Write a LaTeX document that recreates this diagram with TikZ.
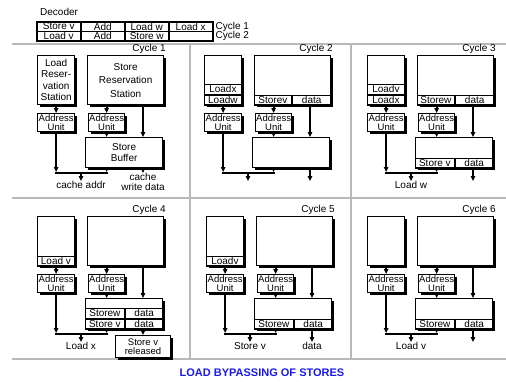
\documentclass[tikz,border=0pt]{standalone}
\usepackage{fontspec}
\setmainfont{Liberation Sans}
\usepackage{tikz}
\usetikzlibrary{arrows.meta,shadows,positioning}
\definecolor{titleblue}{RGB}{25,25,235}

\begin{document}
\begin{tikzpicture}[x=1pt, y=-1pt,
  every node/.style={font=\fontsize{10}{11}\selectfont, inner sep=0pt},
  box/.style={draw, line width=1.3pt, fill=white, anchor=north west,
    drop shadow={shadow xshift=2pt, shadow yshift=-2pt, opacity=1, fill=black}},
  au/.style={box, align=center, minimum height=18pt, font=\fontsize{9.5}{9.5}\selectfont},
  cell/.style={draw, line width=0.8pt, anchor=north west, minimum height=10pt},
  dec/.style={draw, line width=1.5pt, anchor=north west, minimum width=44pt, minimum height=9.5pt},
  conn/.style={line width=1.8pt, -{Triangle[length=5pt,width=4.5pt]}},
  wire/.style={line width=1.8pt, line cap=rect},
  sep/.style={line width=2.5pt, gray!55}]
\useasboundingbox (0,0) rectangle (506,381);

% panel borders
\foreach \y in {44,198,359}
  \draw[sep] (12,\y) -- (506,\y);
\foreach \x in {190,351}
  \draw[sep] (\x,44) -- (\x,359);

% decoder
\node[anchor=west] (dec) at (40,12) {Decoder};
\foreach \t [count=\i] in {Store v,Add,Load w,Load x}
  \node[dec] (da\i) at ({36+44*(\i-1)},21) {\t};
\foreach \t [count=\i] in {Load v,Add,Store w,{}}
  \node[dec] (db\i) at ({36+44*(\i-1)},30.5) {\t};
\node[right=2pt of da4] (c1) {Cycle 1};
\node[right=2pt of db4] (c2) {Cycle 2};

% the six cycles
\foreach \p/\cx/\cy/\de in {1/37/0/173, 2/204/0/181, 3/367/0/181,
                            4/37/161/174, 5/206/161/181, 6/367/161/181} {
  \node[box, minimum width=37pt, minimum height=49pt] (l\p) at (\cx,{55+\cy}) {};
  \node[box, minimum width=76pt, minimum height=49pt] (s\p) at ({\cx+50},{55+\cy}) {};
  \node[au, minimum width=37pt] (al\p) at (\cx,{113+\cy}) {Address\\Unit};
  \node[au, minimum width=36pt] (as\p) at ({\cx+51},{113+\cy}) {Address\\Unit};
  \node[box, minimum width=77pt, minimum height=30pt] (b\p) at ({\cx+48},{137+\cy}) {};
  \node[anchor=east] (cy\p) at ({\cx+129},{49+\cy}) {Cycle \p};
  \coordinate (dx\p) at ({\cx+106},0);
  \coordinate (j\p) at ({\cx+44},{173+\cy});
  \coordinate (o\p) at ({\cx+44},{181+\cy});
  \coordinate (e\p) at ({\cx+106},{\de+\cy});
  \draw[conn] (l\p.south) -- (al\p.north);
  \draw[conn] (as\p.north |- s\p.south) -- (as\p.north);
  \draw[conn] (as\p.south) -- (as\p.south |- b\p.north);
  \draw[conn] (s\p.south -| dx\p) -- (b\p.north -| dx\p);
  \draw[conn] (al\p.south) -- ([yshift=1pt]al\p.south |- j\p);
  \draw[conn] (b\p.south -| as\p) -- ([yshift=1pt]as\p.south |- j\p);
  \draw[wire] (al\p.south |- j\p) -- (as\p.south |- j\p);
  \draw[conn] (j\p) -- (o\p);
  \draw[conn] (b\p.south -| dx\p) -- (e\p);
}

% cycle 1
\node[align=center, font=\fontsize{10}{11.5}\selectfont] (lt1) at (l1) {Load\\Reser-\\vation\\Station};
\node[align=center, font=\fontsize{10}{13.5}\selectfont] (st1) at (s1) {Store\\Reservation\\Station};
\node[align=center, font=\fontsize{10}{10.5}\selectfont] (bt1) at (b1) {Store\\Buffer};
\node[below=0pt of o1] (ca1) {cache addr};
\node[below=0pt of e1, align=center, font=\fontsize{10}{10}\selectfont] (cw1) {cache\\write data};

% cycle 2
\node[cell, anchor=south west, minimum width=37pt] (lr2b) at (l2.south west) {Loadw};
\node[cell, above=0pt of lr2b, minimum width=37pt] (lr2a) {Loadx};
\node[cell, anchor=south west, minimum width=37pt] (sr2) at (s2.south west) {Storev};
\node[cell, right=0pt of sr2, minimum width=39pt] (sd2) {data};

% cycle 3
\node[cell, anchor=south west, minimum width=37pt] (lr3b) at (l3.south west) {Loadx};
\node[cell, above=0pt of lr3b, minimum width=37pt] (lr3a) {Loadv};
\node[cell, anchor=south west, minimum width=37pt] (sr3) at (s3.south west) {Storew};
\node[cell, right=0pt of sr3, minimum width=39pt] (sd3) {data};
\node[cell, anchor=south west, minimum width=39pt] (br3) at (b3.south west) {Store v};
\node[cell, right=0pt of br3, minimum width=38pt] (bd3) {data};
\node[below=0pt of o3] (lw3) {Load w};

% cycle 4
\node[cell, anchor=south west, minimum width=37pt] (lr4) at (l4.south west) {Load v};
\node[cell, anchor=south west, minimum width=39pt] (br4b) at (b4.south west) {Store v};
\node[cell, right=0pt of br4b, minimum width=38pt] (bd4b) {data};
\node[cell, above=0pt of br4b, minimum width=39pt] (br4a) {Storew};
\node[cell, right=0pt of br4a, minimum width=38pt] (bd4a) {data};
\node[below=0pt of o4] (lx4) {Load x};
\node[box, below=0pt of e4, minimum width=55pt, minimum height=22pt, align=center,
  font=\fontsize{9.5}{9.5}\selectfont] (rel4) {Store v\\released};

% cycle 5
\node[cell, anchor=south west, minimum width=37pt] (lr5) at (l5.south west) {Loadv};
\node[cell, anchor=south west, minimum width=39pt] (br5) at (b5.south west) {Storew};
\node[cell, right=0pt of br5, minimum width=38pt] (bd5) {data};
\node[below=0pt of o5] (sv5) {Store v};
\node[below=0pt of e5] (dt5) {data};

% cycle 6
\node[cell, anchor=south west, minimum width=39pt] (br6) at (b6.south west) {Storew};
\node[cell, right=0pt of br6, minimum width=38pt] (bd6) {data};
\node[below=0pt of o6] (lv6) {Load v};

\node[font=\fontsize{11}{13}\selectfont\bfseries, text=titleblue] (title) at (262,373) {LOAD BYPASSING OF STORES};
\end{tikzpicture}
\end{document}
